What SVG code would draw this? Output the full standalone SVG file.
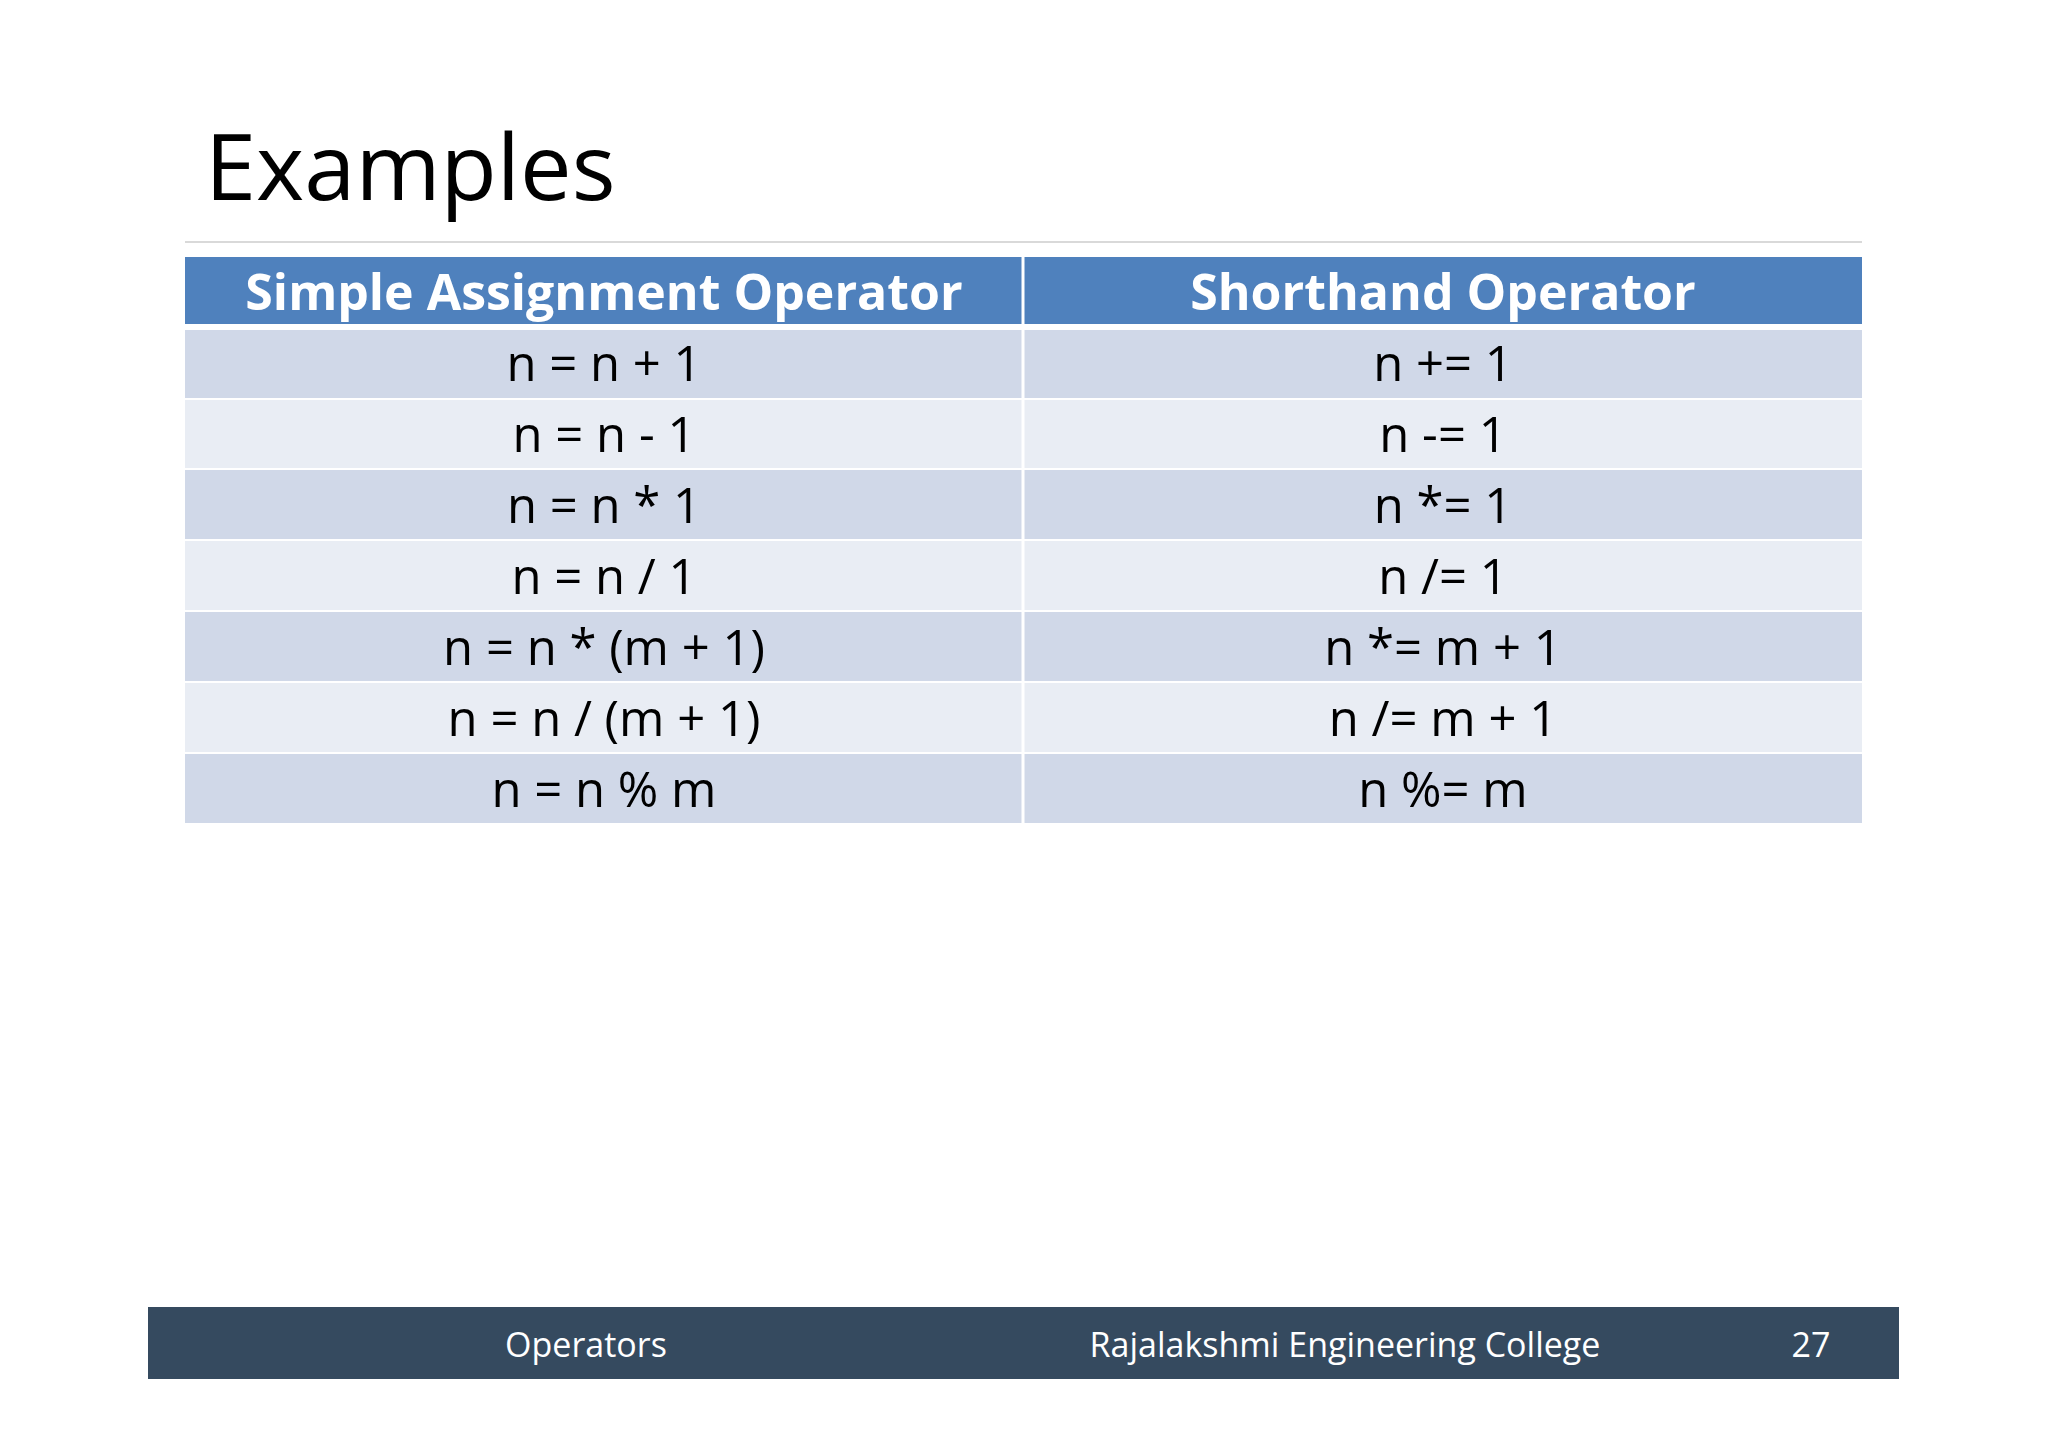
<svg xmlns="http://www.w3.org/2000/svg" width="2048" height="1448" viewBox="0 0 2048 1448">
<style>
text{font-family:"Open Sans","Noto Sans",sans-serif;text-anchor:middle}
.h{fill:#fff;font-weight:bold;font-size:50px}
.c{fill:#000;font-size:49px}
.f{fill:#fff;font-size:34px}
.d{fill:#D0D8E8}.l{fill:#E9EDF4}
</style>
<rect width="2048" height="1448" fill="#fff"/>
<text x="205" y="200" style="text-anchor:start;font-size:92px" fill="#000">Examples</text>
<line x1="185" y1="242" x2="1862" y2="242" stroke="#d9d9d9" stroke-width="2"/>
<g id="table">
<rect x="185" y="257" width="1677" height="67" fill="#4F81BD"/>
<rect x="185" y="330" width="1677" height="68" class="d"/>
<rect x="185" y="400" width="1677" height="68" class="l"/>
<rect x="185" y="470" width="1677" height="69" class="d"/>
<rect x="185" y="541" width="1677" height="69" class="l"/>
<rect x="185" y="612" width="1677" height="69" class="d"/>
<rect x="185" y="683" width="1677" height="69" class="l"/>
<rect x="185" y="754" width="1677" height="69" class="d"/>
<line x1="1023" y1="257" x2="1023" y2="823" stroke="#fff" stroke-width="3"/>
<text class="h" x="604" y="310">Simple Assignment Operator</text>
<text class="h" x="1443" y="310">Shorthand Operator</text>
<text class="c" x="604" y="381">n = n + 1</text><text class="c" x="1443" y="381">n += 1</text>
<text class="c" x="604" y="452">n = n - 1</text><text class="c" x="1443" y="452">n -= 1</text>
<text class="c" x="604" y="523">n = n * 1</text><text class="c" x="1443" y="523">n *= 1</text>
<text class="c" x="604" y="594">n = n / 1</text><text class="c" x="1443" y="594">n /= 1</text>
<text class="c" x="604" y="665">n = n * (m + 1)</text><text class="c" x="1443" y="665">n *= m + 1</text>
<text class="c" x="604" y="736">n = n / (m + 1)</text><text class="c" x="1443" y="736">n /= m + 1</text>
<text class="c" x="604" y="807">n = n % m</text><text class="c" x="1443" y="807">n %= m</text>
</g>
<g id="footer">
<rect x="148" y="1307" width="1751" height="72" fill="#354A5F"/>
<text class="f" x="586" y="1357">Operators</text>
<text class="f" x="1345" y="1357">Rajalakshmi Engineering College</text>
<text class="f" x="1811" y="1357">27</text>
</g>
</svg>
